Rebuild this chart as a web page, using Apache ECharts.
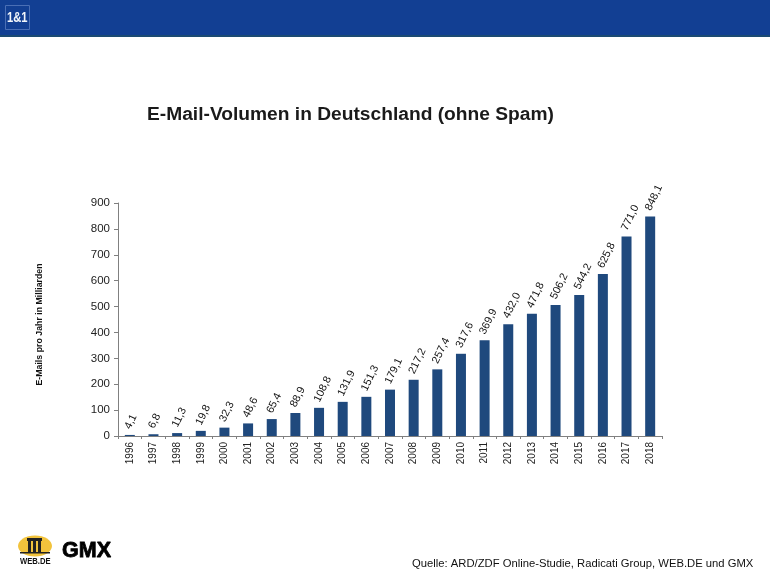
<!DOCTYPE html>
<html>
<head>
<meta charset="utf-8">
<style>html,body{margin:0;padding:0;background:#fff}#main{width:770px;height:577px}</style>
<script src="https://cdn.jsdelivr.net/npm/echarts@6/dist/echarts.min.js"></script>
</head>
<body>
<div id="main"></div>
<script>
var years = ['1996','1997','1998','1999','2000','2001','2002','2003','2004','2005','2006','2007','2008','2009','2010','2011','2012','2013','2014','2015','2016','2017','2018'];
var volumes = [4.1,6.8,11.3,19.8,32.3,48.6,65.4,88.9,108.8,131.9,151.3,179.1,217.2,257.4,317.6,369.9,432.0,471.8,506.2,544.2,625.8,771.0,848.1];

var font = '"Liberation Sans", Arial, sans-serif';
var myChart = echarts.init(document.getElementById('main'), null, {renderer: 'canvas'});

var option = {
	animation: false,
	backgroundColor: '#fff',
	title: {
		text: 'E-Mail-Volumen in Deutschland (ohne Spam)',
		left: 142, top: 100,
		textStyle: {fontFamily: font, fontSize: 19.2, fontWeight: 'bold', color: '#1a1a1a'}
	},
	grid: {left: 118, right: 108, top: 203, bottom: 141},
	xAxis: {
		type: 'category',
		data: years,
		axisLine: {lineStyle: {color: '#808080', width: 1}},
		axisTick: {show: true, alignWithLabel: false, length: 3, lineStyle: {color: '#808080'}},
		axisLabel: {rotate: 90, interval: 0, margin: 6, fontFamily: font, fontSize: 10, color: '#222'}
	},
	yAxis: {
		type: 'value',
		min: 0, max: 900, interval: 100,
		name: 'E-Mails pro Jahr in Milliarden',
		nameLocation: 'middle',
		nameRotate: 90,
		nameGap: 74,
		nameTextStyle: {fontFamily: font, fontSize: 8.8, fontWeight: 'bold', color: '#111', padding: [0, 10, 0, 0]},
		splitLine: {show: false},
		axisLine: {show: true, lineStyle: {color: '#808080', width: 1}},
		axisTick: {show: true, length: 4, lineStyle: {color: '#808080'}},
		axisLabel: {margin: 8, fontFamily: font, fontSize: 11.5, color: '#222', padding: [2, 0, 0, 0]}
	},
	series: [{
		type: 'bar',
		data: volumes,
		barWidth: 10,
		itemStyle: {color: '#1f497d'},
		label: {
			show: true,
			position: 'top',
			distance: 11,
			offset: [-5, 0],
			rotate: 64,
			align: 'left',
			verticalAlign: 'middle',
			fontFamily: font,
			fontSize: 10.8,
			color: '#111',
			formatter: function (p) { return p.value.toFixed(1).replace('.', ','); }
		}
	}],
	graphic: [
		// header band and logos
		{type: 'rect', shape: {x: 0, y: 0, width: 770, height: 36}, style: {fill: '#123f93'}},
		{type: 'rect', shape: {x: 0, y: 35, width: 770, height: 2}, style: {fill: '#1b4a73'}},
		{type: 'rect', shape: {x: 5.5, y: 5.5, width: 24, height: 24}, style: {fill: 'none', stroke: '#4a6fb5', lineWidth: 1}},
		{type: 'text', x: 7, y: 11, scaleX: 0.8, style: {text: '1&1', fontFamily: font, fontSize: 14, fontWeight: 'bold', fill: '#f2f6fa'}},
		{type: 'ellipse', shape: {cx: 35, cy: 546, rx: 17, ry: 10.5}, style: {fill: '#f2c33c'}},
		{type: 'rect', shape: {x: 27, y: 538, width: 15, height: 3}, style: {fill: '#222'}},
		{type: 'rect', shape: {x: 28, y: 541, width: 3, height: 11}, style: {fill: '#222'}},
		{type: 'rect', shape: {x: 33, y: 541, width: 3, height: 11}, style: {fill: '#222'}},
		{type: 'rect', shape: {x: 38, y: 541, width: 3, height: 11}, style: {fill: '#222'}},
		{type: 'rect', shape: {x: 20, y: 552, width: 30, height: 1.5}, style: {fill: '#222'}},
		{type: 'text', x: 20, y: 557, scaleX: 0.85, style: {text: 'WEB.DE', fontFamily: font, fontSize: 9, fontWeight: 'bold', fill: '#111'}},
		{type: 'text', x: 62, y: 540, style: {text: 'GMX', fontFamily: font, fontSize: 21.5, fontWeight: 'bold', fill: '#000', stroke: '#000', lineWidth: 0.8}},
		{type: 'text', x: 412, y: 558, style: {text: 'Quelle: ARD/ZDF Online-Studie, Radicati Group, WEB.DE und GMX', fontFamily: font, fontSize: 11.25, fill: '#111'}}
	]
};
myChart.setOption(option);
</script>
</body>
</html>
